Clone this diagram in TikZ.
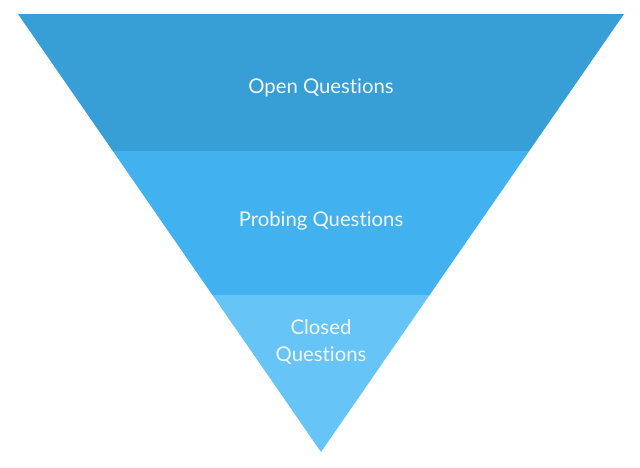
\documentclass[tikz,border=0pt]{standalone}
\usepackage{fontspec}
\setmainfont[Ligatures={NoCommon}]{Lato}
\usetikzlibrary{positioning}
\definecolor{bandtop}{HTML}{389FD6}
\definecolor{bandmid}{HTML}{42B1EF}
\definecolor{bandlow}{HTML}{67C4F6}
\definecolor{labelwhite}{HTML}{F2F8FC}
\tikzset{
  band/.style={draw=none},
  lbl/.style={text=labelwhite, align=center, font=\fontsize{20.3}{27}\selectfont},
}
\begin{document}
\begin{tikzpicture}[x=1pt, y=-1pt]
  \useasboundingbox (0,0) rectangle (640,467);
  % funnel bands
  \fill[band, bandtop] (18,14) -- (624,14) -- (529.2,151) -- (112.8,151) -- cycle;
  \fill[band, bandmid] (112.8,151) -- (529.2,151) -- (429.6,295) -- (212.4,295) -- cycle;
  \fill[band, bandlow] (212.4,295) -- (429.6,295) -- (321,452) -- cycle;
  % labels
  \node[lbl] (open) at (321,88) {Open Questions};
  \node[lbl] (probing) at (321,221) {Probing Questions};
  \node[lbl] (closed) at (321,342) {Closed\\Questions};
\end{tikzpicture}
\end{document}
